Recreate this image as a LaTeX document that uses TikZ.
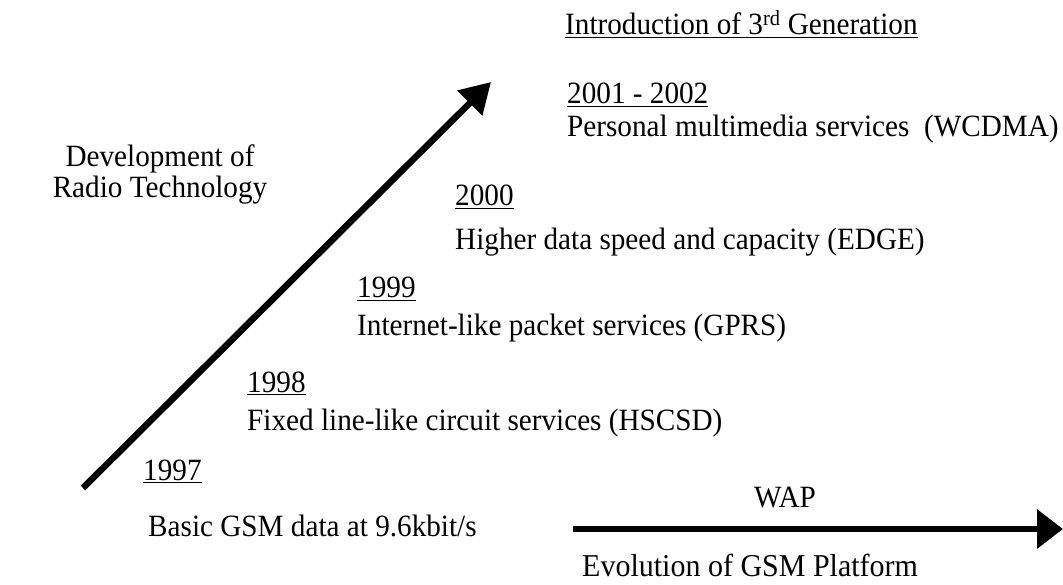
\documentclass[tikz,border=0pt]{standalone}
\usepackage{fontspec}
\setmainfont{Liberation Serif}
\usetikzlibrary{arrows.meta}
\begin{document}
\begin{tikzpicture}[x=1pt,y=-1pt,
  lbl/.style={anchor=base west,inner sep=0pt,yscale=1.06,font=\fontsize{29.2}{33}\selectfont},
  clbl/.style={lbl,anchor=base},
  bigarrow/.style={line width=6.5pt,-{Triangle[length=30pt,width=34pt]}}]
\useasboundingbox (0,0) rectangle (1063,585);

% Radio technology axis
\coordinate (rs) at (83,488);
\coordinate (re) at (491,82);
\draw[bigarrow] (rs) -- (re);

% GSM platform axis
\coordinate (gs) at (573,529);
\coordinate (ge) at (1063,529);
\draw[line width=6.5pt,-{Triangle[length=26pt,width=38pt]}] (gs) -- (ge);

\node[lbl] (intro) at (565,35) {\underline{Introduction of 3\textsuperscript{rd} Generation}};
\node[lbl] (y2001) at (567,104) {\underline{2001 - 2002}};
\node[lbl] (wcdma) at (567,137) {Personal multimedia services~ (WCDMA)};
\node[clbl] (dev1) at (160,167) {Development of};
\node[clbl] (dev2) at (160,198) {Radio Technology};
\node[lbl] (y2000) at (455,206) {\underline{2000}};
\node[lbl] (edge) at (455,250) {Higher data speed and capacity (EDGE)};
\node[lbl] (y1999) at (357,298) {\underline{1999}};
\node[lbl] (gprs) at (357,335) {Internet-like packet services (GPRS)};
\node[lbl] (y1998) at (247,392) {\underline{1998}};
\node[lbl] (hscsd) at (247,430) {Fixed line-like circuit services (HSCSD)};
\node[lbl] (y1997) at (143,480) {\underline{1997}};
\node[clbl] (wap) at (785,507) {WAP};
\node[lbl] (basic) at (148,536) {Basic GSM data at 9.6kbit/s};
\node[lbl,font=\fontsize{30}{34}\selectfont] (evo) at (582,576) {Evolution of GSM Platform};
\end{tikzpicture}
\end{document}
